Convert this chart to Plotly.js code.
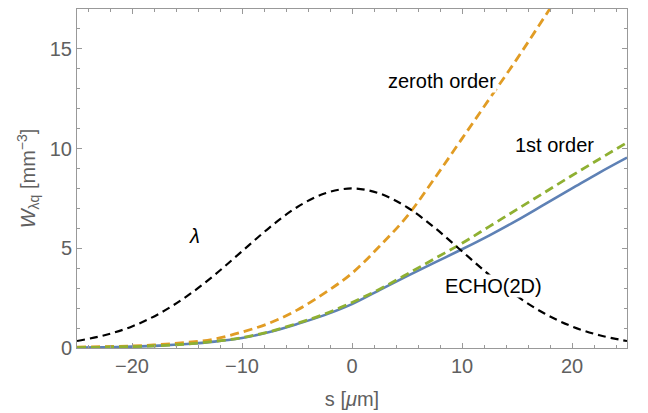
<!DOCTYPE html>
<html>
<head>
<meta charset="utf-8">
<script src="https://cdn.plot.ly/plotly-3.0.1.min.js"></script>
<style>html,body{margin:0;padding:0;background:#fff;}#plot{width:648px;height:413px;}</style>
</head>
<body>
<div id="plot"></div>
<script>
// s positions [μm]
const s = [-25, -22.5, -20, -17.5, -15, -12.5, -10, -7.5, -5, -2.5, 0, 2.5, 5, 7.5, 10, 12.5, 15, 17.5, 20, 22.5, 25];
// ECHO(2D) result
const echo2D = [0.02, 0.04, 0.07, 0.12, 0.2, 0.32, 0.5, 0.8, 1.2, 1.65, 2.2, 2.9, 3.6, 4.28, 4.95, 5.65, 6.4, 7.2, 8.0, 8.8, 9.55];
// zeroth order approximation
const zerothOrder = [0.04, 0.07, 0.1, 0.17, 0.28, 0.45, 0.8, 1.25, 1.9, 2.75, 3.75, 5.1, 6.6, 8.5, 10.5, 12.5, 14.5, 16.6, 18.7, 20.8, 22.9];
// first order approximation
const firstOrder = [0.02, 0.04, 0.07, 0.12, 0.2, 0.33, 0.52, 0.82, 1.23, 1.7, 2.28, 2.95, 3.7, 4.48, 5.25, 6.1, 6.95, 7.8, 8.65, 9.48, 10.3];
// line density lambda
const lambda = [0.35, 0.64, 1.08, 1.73, 2.6, 3.66, 4.85, 6.04, 7.06, 7.75, 8.0, 7.75, 7.06, 6.04, 4.85, 3.66, 2.6, 1.73, 1.08, 0.64, 0.35];

const labels = [
  {text: 'zeroth order', x: 8.2, y: 13.4, bg: true},
  {text: '1st order', x: 18.4, y: 10.2, bg: false},
  {text: 'ECHO(2D)', x: 12.9, y: 3.1, bg: true},
  {text: '<i>λ</i>', x: -14.3, y: 5.6, bg: false}
];

const dash = '9px,5px';
const traces = [
  {x: s, y: echo2D, mode: 'lines', line: {color: '#5E81B5', width: 2.6, shape: 'spline'}},
  {x: s, y: zerothOrder, mode: 'lines', line: {color: '#E19C24', width: 2.8, shape: 'spline', dash: dash}},
  {x: s, y: firstOrder, mode: 'lines', line: {color: '#8FB032', width: 2.8, shape: 'spline', dash: dash}},
  {x: s, y: lambda, mode: 'lines', line: {color: '#000000', width: 2.2, shape: 'spline', dash: '8px,5px'}}
];

const axisCommon = {
  showgrid: false, zeroline: false, showline: true, linecolor: '#999999', linewidth: 1,
  mirror: 'allticks', ticks: 'inside', ticklen: 5, tickcolor: '#999999', tickwidth: 1,
  tickfont: {family: 'Liberation Sans, Arial, sans-serif', size: 20, color: '#606060'}
};

const layout = {
  width: 648, height: 413,
  margin: {l: 77, r: 21, t: 9, b: 65},
  paper_bgcolor: '#ffffff', plot_bgcolor: '#ffffff',
  showlegend: false,
  font: {family: 'Liberation Sans, Arial, sans-serif'},
  xaxis: Object.assign({}, axisCommon, {
    range: [-25, 25], dtick: 10, tick0: 0,
    minor: {dtick: 2, ticklen: 3, tickcolor: '#999999', ticks: 'inside', showgrid: false},
    title: {text: 's [<i>μ</i>m]', font: {size: 20, color: '#606060'}, standoff: 15}
  }),
  yaxis: Object.assign({}, axisCommon, {
    range: [0, 17], dtick: 5, tick0: 0,
    minor: {dtick: 1, ticklen: 3, tickcolor: '#999999', ticks: 'inside', showgrid: false},
    title: {text: '<i>W</i><sub>λq</sub> [mm<sup>−3</sup>]', font: {size: 20, color: '#606060'}, standoff: 8}
  }),
  annotations: labels.map(l => ({
    x: l.x, y: l.y, xref: 'x', yref: 'y', text: l.text, showarrow: false,
    bgcolor: l.bg ? '#ffffff' : 'rgba(0,0,0,0)', borderpad: 0,
    font: {family: 'Liberation Sans, Arial, sans-serif', size: 20, color: '#000000'}
  }))
};

Plotly.newPlot('plot', traces, layout, {displayModeBar: false, staticPlot: true});
</script>
</body>
</html>
